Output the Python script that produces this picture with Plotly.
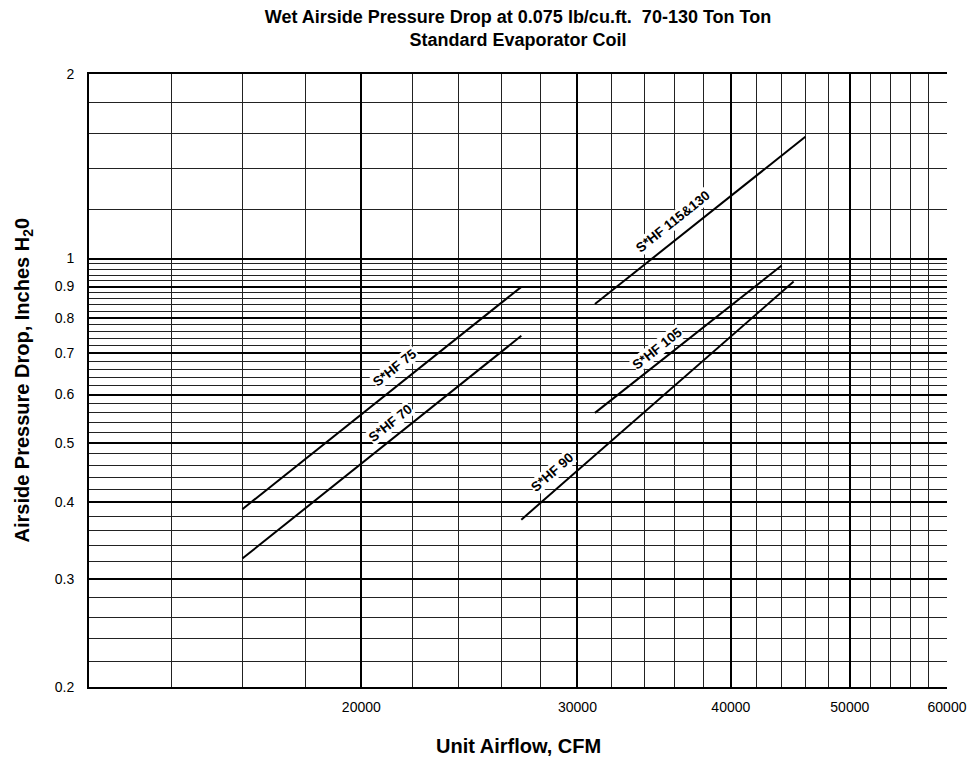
import math
import numpy as np
import plotly.graph_objects as go

# ---- data ----
series_names = ["S*HF 75", "S*HF 70", "S*HF 90", "S*HF 105", "S*HF 115&130"]
airflow_start = [16000, 16000, 27000, 31000, 31000]
airflow_end = [27000, 27000, 45000, 44000, 46000]
pdrop_start = [0.39, 0.324, 0.375, 0.56, 0.843]
pdrop_end = [0.899, 0.748, 0.917, 0.974, 1.58]

x_tick_vals = [20000, 30000, 40000, 50000, 60000]
x_tick_text = ["20000", "30000", "40000", "50000", "60000"]
y_tick_vals = [0.2, 0.3, 0.4, 0.5, 0.6, 0.7, 0.8, 0.9, 1, 2]
y_tick_text = ["0.2", "0.3", "0.4", "0.5", "0.6", "0.7", "0.8", "0.9", "1", "2"]

# ---- layout / style ----
W, H = 968, 757
ML, MR, MT, MB = 89, 21, 74, 70
X_RANGE = (12000, 60000)
Y_RANGE = (0.2, 2)
FONT = "Liberation Sans, Arial, Helvetica, sans-serif"

# label placement along each line (airflow where label sits, pixel offset above the line)
label_at = [21310, 21110, 28610, 34850, 35900]
label_shift = [20, 17, 20, 15, 20]

x_minor = [v for v in range(14000, 60000, 2000) if v not in x_tick_vals]
y_minor = [round(v, 2) for v in np.arange(0.22, 1.0, 0.02) if abs(v * 10 - round(v * 10)) > 1e-6] + [1.2, 1.4, 1.6, 1.8]

fig = go.Figure()
for i, name in enumerate(series_names):
    fig.add_trace(go.Scatter(
        x=[airflow_start[i], airflow_end[i]],
        y=[pdrop_start[i], pdrop_end[i]],
        mode="lines", line=dict(color="black", width=2),
        name=name, showlegend=False, hoverinfo="skip"))

pw = W - ML - MR
ph = H - MT - MB
px_per_dec_x = pw / math.log10(X_RANGE[1] / X_RANGE[0])
px_per_dec_y = ph / math.log10(Y_RANGE[1] / Y_RANGE[0])

annotations = []
for i, name in enumerate(series_names):
    lx0, lx1 = math.log10(airflow_start[i]), math.log10(airflow_end[i])
    ly0, ly1 = math.log10(pdrop_start[i]), math.log10(pdrop_end[i])
    slope = (ly1 - ly0) / (lx1 - lx0)
    lx = math.log10(label_at[i])
    ly = ly0 + slope * (lx - lx0)
    ang = math.degrees(math.atan(slope * px_per_dec_y / px_per_dec_x))
    annotations.append(dict(
        x=lx, y=ly, xref="x", yref="y", text="<b>" + name + "</b>",
        showarrow=False, textangle=-ang, yshift=label_shift[i],
        font=dict(family=FONT, size=13.5, color="black"),
        bgcolor="white", borderpad=0))

annotations.append(dict(
    x=0.5, y=0, xref="paper", yref="paper", yshift=-59, yanchor="middle",
    text="<b>Unit Airflow, CFM</b>", showarrow=False,
    font=dict(family=FONT, size=20, color="black")))
annotations.append(dict(
    x=0, y=0.5, xref="paper", yref="paper", xshift=-66, xanchor="center",
    text="<b>Airside Pressure Drop, Inches H<sub>2</sub>0</b>", showarrow=False,
    textangle=-90, font=dict(family=FONT, size=20, color="black")))

fig.update_layout(
    width=W, height=H,
    margin=dict(l=ML, r=MR, t=MT, b=MB, autoexpand=False),
    paper_bgcolor="white", plot_bgcolor="white",
    title=dict(text="<b>Wet Airside Pressure Drop at 0.075 lb/cu.ft.  70-130 Ton Ton<br>Standard Evaporator Coil</b>",
               x=0.5, xanchor="center", xref="paper", yref="container", y=1 - 23 / H, yanchor="middle",
               font=dict(family=FONT, size=18, color="black")),
    annotations=annotations,
    font=dict(family=FONT, color="black"),
)

fig.update_xaxes(
    type="log", range=[math.log10(X_RANGE[0]), math.log10(X_RANGE[1])],
    tickmode="array", tickvals=x_tick_vals, ticktext=x_tick_text,
    tickfont=dict(family=FONT, size=14, color="black"),
    ticks="", ticklabelstandoff=6, automargin=False,
    showgrid=True, gridcolor="black", gridwidth=2,
    minor=dict(tickmode="array", tickvals=x_minor, showgrid=True, gridcolor="#222", gridwidth=1, ticks=""),
    showline=True, linecolor="black", linewidth=2, mirror=True,
    zeroline=False, fixedrange=True)

fig.update_yaxes(
    type="log", range=[math.log10(Y_RANGE[0]), math.log10(Y_RANGE[1])],
    tickmode="array", tickvals=y_tick_vals, ticktext=y_tick_text,
    tickfont=dict(family=FONT, size=14, color="black"),
    ticks="", ticklabelstandoff=10, automargin=False,
    showgrid=True, gridcolor="black", gridwidth=2,
    minor=dict(tickmode="array", tickvals=y_minor, showgrid=True, gridcolor="#222", gridwidth=1, ticks=""),
    showline=True, linecolor="black", linewidth=2,
    zeroline=False, fixedrange=True)

fig.write_html("out.html", config={"displayModeBar": False},
               post_script="document.body.style.margin='0';document.body.style.overflow='hidden';")
